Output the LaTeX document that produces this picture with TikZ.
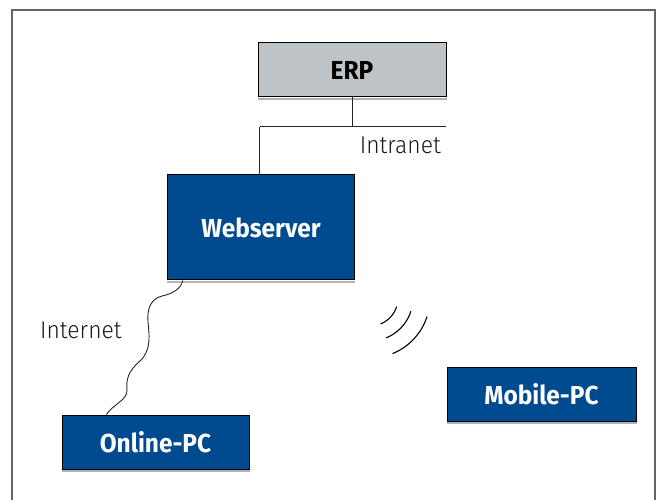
\documentclass[tikz,border=0pt]{standalone}
\usepackage{fontspec}
\setmainfont{Fira Sans}[FakeStretch=0.94]
\newfontfamily\lightfont{Fira Sans Light}[FakeStretch=0.94]
\usetikzlibrary{calc}
\definecolor{boxblue}{RGB}{0,74,143}
\definecolor{boxgrey}{RGB}{190,195,200}
\definecolor{framegrey}{RGB}{100,100,100}
\tikzset{
  box/.style={draw=black, line width=1pt, minimum height=54pt, minimum width=188pt, inner sep=0pt, font=\fontsize{26}{30}\selectfont\bfseries},
  bluebox/.style={box, fill=boxblue, text=white},
  greybox/.style={box, fill=boxgrey, text=black},
  lbl/.style={font=\lightfont\fontsize{24.3}{28}\selectfont, text=black!90, inner sep=0pt},
  wire/.style={draw=black!85, line width=1pt},
  wave/.style={draw=black, line width=1.1pt},
  shadowline/.style={draw=black!30, line width=1.5pt}
}
\begin{document}
\begin{tikzpicture}[x=1pt, y=-1pt]
\useasboundingbox (0,0) rectangle (657,500);
% frame (open at the bottom)
\draw[framegrey, line width=1.5pt] (12,505) -- (12,10) -- (655,10) -- (655,505);

% nodes
\node[greybox] (erp) at (352,70) {ERP};
\node[bluebox, minimum width=187.5pt, minimum height=105pt] (web) at (261,227.5) {Webserver};
\node[bluebox, minimum width=187pt] (onl) at (155.5,442) {Online-PC};
\node[bluebox, minimum width=189pt] (mob) at (541.5,394) {Mobile-PC};

% shadows under the boxes
\foreach \b in {erp,web,onl,mob}{
  \draw[shadowline] ([yshift=-1.6pt]\b.south west) -- ([yshift=-1.6pt]\b.south east);
}

% intranet bus
\coordinate (busl) at (259.5,127);
\coordinate (busr) at (446,127);
\draw[wire] (erp.south) -- (erp.south |- busl);
\draw[wire] (busl) -- (busr);
\draw[wire] (busl) -- (busl |- web.north);
\node[lbl, anchor=base east] (intra) at (441,153.5) {Intranet};

% internet wavy link
\coordinate (w1) at ($(web.south west)+(16,0)$);
\coordinate (w2) at ($(onl.north west)+(45,0)$);
\draw[wire, line width=0.9pt] (w1) .. controls (181,289) and (172,294) .. (162,296)
  .. controls (150,299) and (147,310) .. (148,322)
  .. controls (149,333) and (152,350) .. (140,361)
  .. controls (128,371) and (126,380) .. (127,390)
  .. controls (128,400) and (112,405) .. (w2);
\node[lbl, anchor=base west] (inet) at (40,338.5) {Internet};

% radio waves
\coordinate (rc) at (370,298);
\foreach \r in {28,43,60}{
  \draw[wave, shift={(rc)}] plot[domain=18:68, samples=25, smooth] (\x:\r);
}
\end{tikzpicture}
\end{document}
